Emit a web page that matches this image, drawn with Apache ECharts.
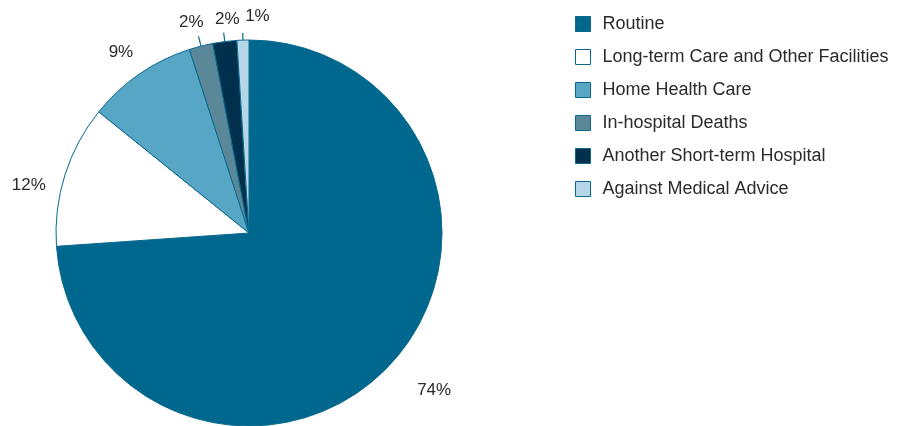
<!DOCTYPE html>
<html>
<head>
<meta charset="utf-8">
<script src="https://cdn.jsdelivr.net/npm/echarts@6/dist/echarts.min.js"></script>
<style>
html,body{margin:0;padding:0;background:#fff;}
#chart{width:905px;height:426px;}
</style>
</head>
<body>
<div id="chart"></div>
<script>
var categories = ["Routine", "Long-term Care and Other Facilities", "Home Health Care", "In-hospital Deaths", "Another Short-term Hospital", "Against Medical Advice"];
var values = [73.9, 11.9, 9.2, 2.0, 2.0, 1.0];
var colors = ["#00678f", "#ffffff", "#58a6c6", "#5a8898", "#00304b", "#b5d6e7"];

// per-slice label placement tweaks
var labelTweaks = [
  {len: 37, dist: 0, line: false, dy: 0},
  {len: 20, dist: 0, line: false, dy: 16},
  {len: 27, dist: -9, line: false, dy: 0},
  {len: 10, dist: -5, line: true, dy: -14},
  {len: 9, dist: -16, line: true, dy: -13},
  {len: 7, dist: -27, line: true, dy: -17}
];

var data = categories.map(function (c, i) {
  var t = labelTweaks[i];
  return {
    name: c,
    value: values[i],
    itemStyle: {color: colors[i]},
    label: {distanceToLabelLine: t.dist},
    labelLine: {show: t.line, length: t.len, length2: 0}
  };
});

var chart = echarts.init(document.getElementById('chart'), null, {renderer: 'canvas'});
chart.setOption({
  animation: false,
  backgroundColor: '#ffffff',
  legend: {
    orient: 'vertical',
    left: 575,
    top: 15,
    padding: 0,
    itemWidth: 15,
    itemHeight: 15,
    itemGap: 15,
    icon: 'rect',
    itemStyle: {borderColor: '#0a6a8e', borderWidth: 1},
    textStyle: {
      fontFamily: 'Liberation Sans, Arial, sans-serif',
      fontSize: 18,
      color: '#2b2b2b',
      padding: [0, 0, 0, 7],
      lineHeight: 15
    },
    data: categories
  },
  series: [{
    type: 'pie',
    center: [249, 233],
    radius: [0, 193],
    startAngle: 90,
    clockwise: true,
    avoidLabelOverlap: false,
    itemStyle: {borderColor: '#0a6a8e', borderWidth: 1},
    label: {
      show: true,
      position: 'outside',
      formatter: function (p) { return Math.round(p.value) + '%'; },
      fontFamily: 'Liberation Sans, Arial, sans-serif',
      fontSize: 17,
      color: '#2b2b2b'
    },
    labelLayout: function (params) {
      return {dy: labelTweaks[params.dataIndex].dy};
    },
    labelLine: {lineStyle: {color: '#0a6a8e', width: 1.2}},
    emphasis: {disabled: true},
    data: data
  }]
});
</script>
</body>
</html>
